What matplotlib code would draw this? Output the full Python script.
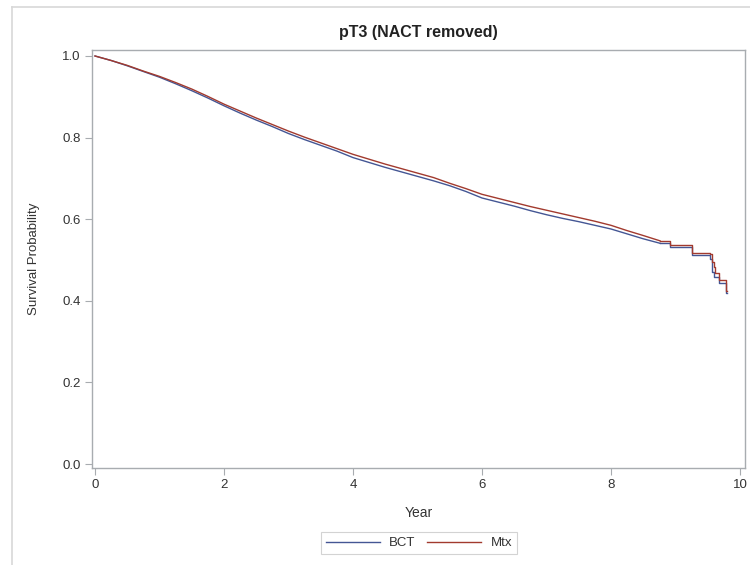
import matplotlib
matplotlib.use("Agg")
import matplotlib.pyplot as plt
from matplotlib.lines import Line2D
import numpy as np

plt.rcParams['font.family'] = ['Liberation Sans', 'DejaVu Sans']

# Body of the curves (years, survival probability)
t_body = [0.0, 0.25, 0.5, 0.75, 1.0, 1.25, 1.5, 1.75, 2.0, 2.25, 2.5, 2.75, 3.0,
          3.25, 3.5, 3.75, 4.0, 4.25, 4.5, 4.75, 5.0, 5.25, 5.5, 5.75, 6.0,
          6.25, 6.5, 6.75, 7.0, 7.25, 7.5, 7.75, 8.0, 8.25, 8.5, 8.76]
bct_body = [1.000, 0.989, 0.976, 0.962, 0.948, 0.932, 0.915, 0.897, 0.878, 0.860,
            0.843, 0.827, 0.810, 0.795, 0.781, 0.767, 0.751, 0.739, 0.727, 0.716,
            0.705, 0.694, 0.682, 0.668, 0.652, 0.642, 0.632, 0.621, 0.611, 0.602,
            0.594, 0.585, 0.576, 0.564, 0.552, 0.541]
mtx_body = [1.000, 0.989, 0.977, 0.963, 0.950, 0.935, 0.919, 0.901, 0.882, 0.865,
            0.848, 0.832, 0.816, 0.801, 0.787, 0.773, 0.759, 0.747, 0.735, 0.724,
            0.713, 0.702, 0.688, 0.675, 0.661, 0.651, 0.641, 0.631, 0.622, 0.613,
            0.604, 0.595, 0.585, 0.572, 0.560, 0.547]

# Tail (step function)
t_tail_bct = [8.76, 8.91, 9.25, 9.53, 9.57, 9.60, 9.68, 9.79, 9.80]
bct_tail = [0.541, 0.532, 0.512, 0.502, 0.470, 0.459, 0.443, 0.418, 0.418]
t_tail_mtx = [8.76, 8.91, 9.25, 9.53, 9.57, 9.60, 9.62, 9.68, 9.79, 9.80]
mtx_tail = [0.547, 0.537, 0.518, 0.515, 0.496, 0.484, 0.467, 0.451, 0.425, 0.425]

x_ticks = [0, 2, 4, 6, 8, 10]
y_ticks = [0.0, 0.2, 0.4, 0.6, 0.8, 1.0]

blue = '#445694'
red = '#A23A2E'

fig = plt.figure(figsize=(7.5, 5.65), dpi=100)
ax = fig.add_axes([92/750, 1-468/565, (745-92)/750, (468-50)/565])

ax.plot(t_body, bct_body, color=blue, lw=1.0, label='BCT')
ax.step(t_tail_bct, bct_tail, where='post', color=blue, lw=1.0)
ax.plot(t_body, mtx_body, color=red, lw=1.0, label='Mtx')
ax.step(t_tail_mtx, mtx_tail, where='post', color=red, lw=1.0)

ax.set_xlim(-0.0465, 10.078)
ax.set_ylim(-0.0098, 1.0147)
ax.set_xticks(x_ticks)
ax.set_xticklabels([str(v) for v in x_ticks])
ax.set_yticks(y_ticks)
ax.set_yticklabels([f'{v:.1f}' for v in y_ticks])

frame_c = '#A8ACB0'
for s in ax.spines.values():
    s.set_color(frame_c)
    s.set_linewidth(1.0)
ax.tick_params(direction='out', length=5, width=0.8, color=frame_c,
               labelsize=9.5, labelcolor='#333333', pad=3)

ax.set_xlabel('Year', fontsize=10, color='#333333', labelpad=11)
ax.set_ylabel('Survival Probability', fontsize=9.5, color='#333333', labelpad=16)

fig.text(418.5/750, 1-33/565, 'pT3 (NACT removed)', ha='center', va='center',
         fontsize=11.5, fontweight='bold', color='#222222')

leg = fig.legend(loc='center', bbox_to_anchor=(419/750, 1-543/565), ncol=2,
                 frameon=True, fancybox=False, fontsize=9.5, handlelength=4.1,
                 columnspacing=0.9, handletextpad=0.7, borderpad=0.35,
                 borderaxespad=0)
leg.get_frame().set_edgecolor('#C8C8C8')
leg.get_frame().set_linewidth(0.8)
for txt in leg.get_texts():
    txt.set_color('#333333')

# Outer figure border (left and top)
fig.add_artist(Line2D([12/750, 12/750], [0, 1-7/565], transform=fig.transFigure,
                      color='#D8D8D8', lw=1.2))
fig.add_artist(Line2D([12/750, 1], [1-7/565, 1-7/565], transform=fig.transFigure,
                      color='#D8D8D8', lw=1.2))

fig.savefig('out.png', dpi=100)
